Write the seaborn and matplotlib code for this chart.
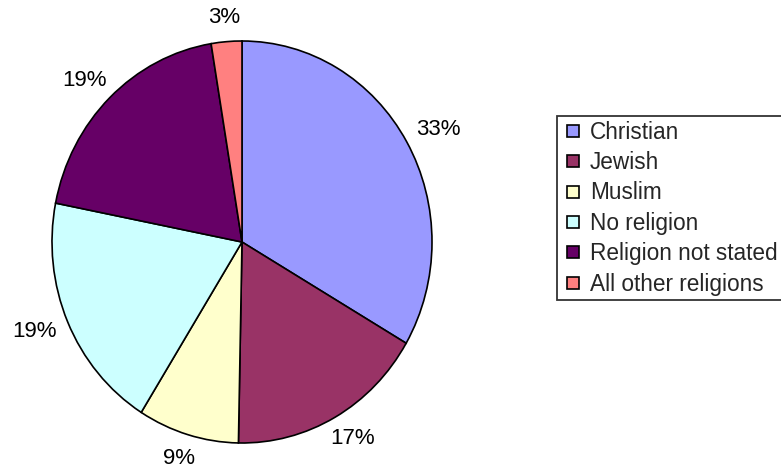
import matplotlib
matplotlib.use("Agg")
import numpy as np
import matplotlib.pyplot as plt
from matplotlib.lines import Line2D
import seaborn as sns

categories = ["Christian", "Jewish", "Muslim", "No religion",
              "Religion not stated", "All other religions"]
values = [33.4, 16.9, 8.6, 19.2, 19.3, 2.6]
colors = ["#9999FF", "#993366", "#FFFFCC", "#CCFFFF", "#660066", "#FF8080"]

sns.set_theme(style="white")
plt.rcParams['font.family'] = ['Liberation Sans', 'DejaVu Sans']

DPI = 100
fig = plt.figure(figsize=(7.81, 4.75), dpi=DPI)
ax = fig.add_axes([52 / 781, 32 / 475, 380 / 781, 402 / 475])

wedges, _ = ax.pie(
    values, colors=colors, startangle=90, counterclock=False,
    wedgeprops=dict(edgecolor="black", linewidth=1.2),
    frame=False,
)
ax.set_aspect("auto")
ax.set_xlim(-1, 1)
ax.set_ylim(-1, 1)

total = sum(values)
labels = []
for w, v in zip(wedges, values):
    ang = np.deg2rad((w.theta1 + w.theta2) / 2)
    t = ax.annotate(f"{v / total * 100:.0f}%", xy=(np.cos(ang), np.sin(ang)),
                    xytext=(0, 0), textcoords="offset points",
                    ha="center", va="center", fontsize=16, color="black",
                    annotation_clip=False)
    labels.append((t, ang))

fig.canvas.draw()
renderer = fig.canvas.get_renderer()
gap = 14  # pixels
for t, ang in labels:
    bb = t.get_window_extent(renderer)
    ox = np.cos(ang) * (gap + bb.width / 2) * 72 / DPI
    oy = np.sin(ang) * (gap + bb.height / 2) * 72 / DPI
    t.xyann = (ox, oy)

handles = [Line2D([], [], linestyle="none", marker="s", markersize=9,
                  markerfacecolor=c, markeredgecolor="black",
                  markeredgewidth=1.2) for c in colors]
leg = fig.legend(handles, categories, loc="upper left",
                 bbox_to_anchor=(557 / 781, 1 - 116 / 475),
                 fontsize=16.3, frameon=True, fancybox=False, shadow=False,
                 handlelength=1.0, handletextpad=0.25,
                 labelspacing=0.33, borderpad=0.2, borderaxespad=0)
leg.get_frame().set_edgecolor("black")
leg.get_frame().set_linewidth(1.3)

fig.savefig("out.png", dpi=DPI)
